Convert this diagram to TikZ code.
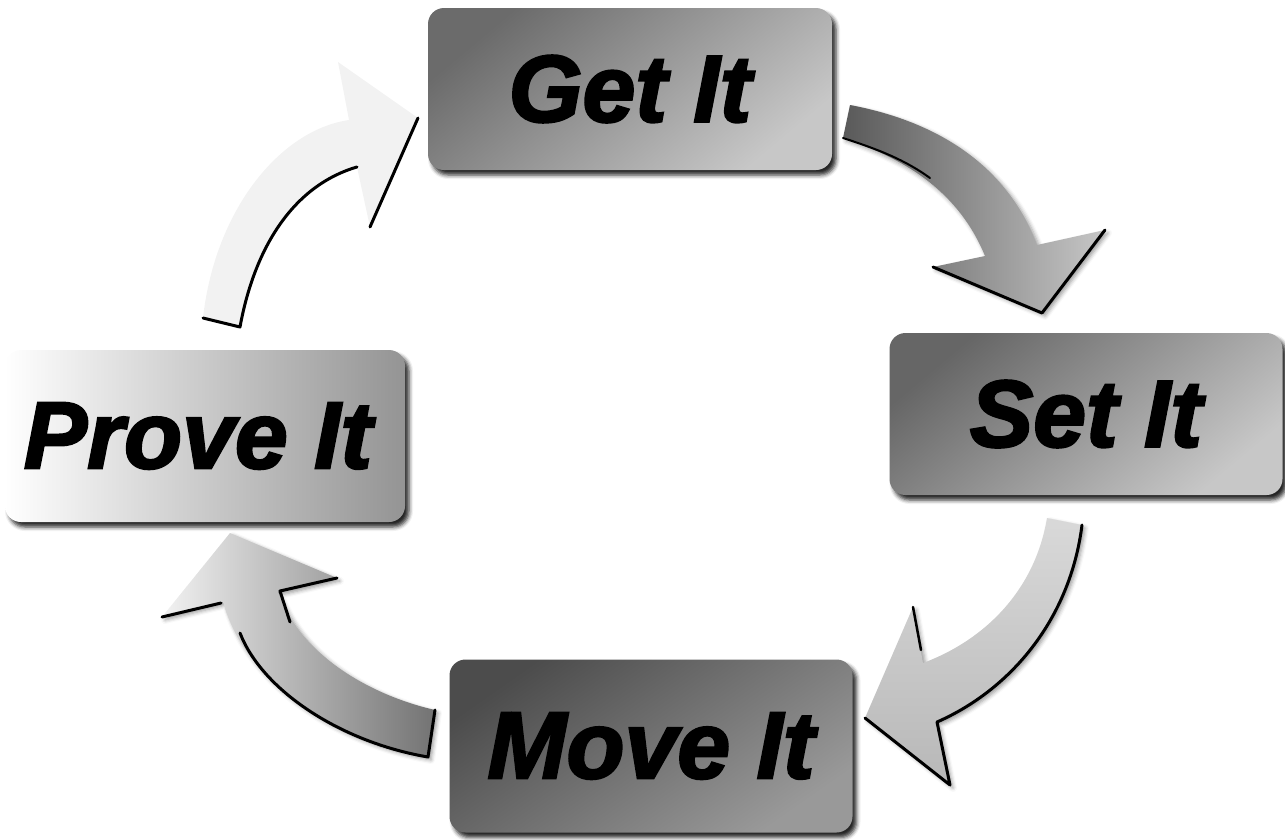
\documentclass[tikz,border=0pt]{standalone}
\usepackage{fontspec}
\newfontfamily\lab[BoldItalicFeatures={FakeBold=2.5}]{Liberation Sans}
\usetikzlibrary{shadows.blur}
\tikzset{
  boxnode/.style={rounded corners=16pt, inner sep=0pt,
    font=\lab\bfseries\itshape\fontsize{95}{100}\selectfont, text=black,
    blur shadow={shadow xshift=4pt, shadow yshift=-5pt, shadow blur radius=4pt, shadow opacity=85}},
  arrowbody/.style={blur shadow={shadow xshift=3pt, shadow yshift=-3pt, shadow blur radius=4pt, shadow opacity=40}},
  edgeline/.style={draw=black, line width=3pt, line cap=round, line join=round},
}
\begin{document}
\begin{tikzpicture}[x=1pt, y=-1pt]
\useasboundingbox (0,0) rectangle (1285,839);

% boxes
\node[boxnode, minimum width=404pt, minimum height=162pt,
      top color=black!58, bottom color=black!22, shading angle=40] (get) at (630,89) {Get It};
\node[boxnode, minimum width=393pt, minimum height=162pt,
      top color=black!60, bottom color=black!22, shading angle=40] (set) at (1086,414) {Set It};
\node[boxnode, minimum width=400pt, minimum height=172pt,
      left color=white, right color=black!42] (prove) at (205,436) {Prove It\hspace*{14pt}};
\node[boxnode, minimum width=403pt, minimum height=173pt,
      top color=black!70, bottom color=black!40, shading angle=35] (move) at (651,746) {Move It};

% arrow: Get It -> Set It
\path[arrowbody, left color=black!65, right color=black!22]
  (850,105) .. controls (930,120) and (1005,160) .. (1037,245) -- (1105,230) -- (1042,313)
  -- (933,267) -- (985,256) .. controls (960,195) and (910,160) .. (843,138) -- cycle;
\draw[edgeline] (933,267) -- (1042,313) -- (1105,230);
\draw[edgeline, line width=2pt] (843,138) .. controls (880,150) and (905,160) .. (930,178);

% arrow: Set It -> Move It
\path[arrowbody, top color=black!15, bottom color=black!28]
  (1082,525) .. controls (1070,620) and (1010,690) .. (937,722) -- (950,785) -- (865,718)
  -- (913,607) -- (923,663) .. controls (985,640) and (1035,590) .. (1047,518) -- cycle;
\draw[edgeline] (1082,525) .. controls (1070,620) and (1010,690) .. (937,722) -- (950,785) -- (865,718);
\draw[edgeline, line width=2.5pt] (913,607) -- (921,650);

% arrow: Move It -> Prove It
\path[arrowbody, left color=black!5, right color=black!55]
  (435,710) .. controls (370,695) and (300,655) .. (278,592) -- (337,578) -- (230,533)
  -- (162,617) -- (223,602) .. controls (245,680) and (330,740) .. (428,757) -- cycle;
\draw[edgeline] (240,633) .. controls (262,690) and (340,742) .. (428,757) -- (435,710);
\draw[edgeline, line width=3pt] (162,617) -- (221,603);
\draw[edgeline, line width=3pt] (337,578) -- (280,591) -- (290,622);

% arrow: Prove It -> Get It
\path[fill=black!5]
  (203,318) -- (240,327) .. controls (255,245) and (295,185) .. (357,167) -- (370,227)
  -- (418,118) -- (338,62) -- (349,120) .. controls (280,130) and (215,210) .. (203,318) -- cycle;
\draw[edgeline] (203,318) -- (240,327) .. controls (255,245) and (295,185) .. (357,167);
\draw[edgeline] (370,227) -- (418,118);
\end{tikzpicture}
\end{document}
